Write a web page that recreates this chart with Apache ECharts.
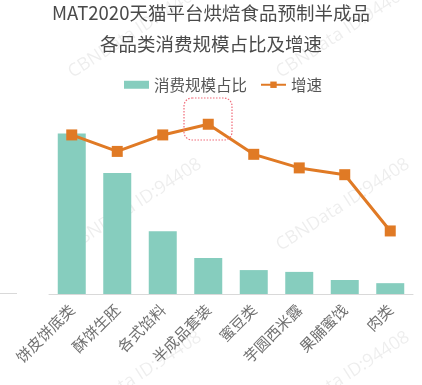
<!DOCTYPE html>
<html><head><meta charset="utf-8">
<script src="https://cdn.jsdelivr.net/npm/echarts@6/dist/echarts.min.js"></script>
<style>html,body{margin:0;padding:0;background:#fff}#c{width:422px;height:385px}</style>
</head><body><div id="c"></div>
<script>
const categories = ['饼皮饼底类','酥饼生胚','各式馅料','半成品套装','蜜豆类','芋圆西米露','果脯蜜饯','肉类'];
const shareValues = [35.6, 26.8, 13.9, 8.0, 5.3, 4.9, 3.1, 2.4];
const growthValues = [164, 147, 164, 175, 144, 130, 123, 65];
const seriesNames = ['消费规模占比','增速'];
const titleLines = ['MAT2020天猫平台烘焙食品预制半成品','各品类消费规模占比及增速'];
const watermarkText = 'CBNData ID:94408';

const chart = echarts.init(document.getElementById('c'), null, {renderer:'canvas'});
const wm = [];
[-138, 70, 278].forEach(x => [74, 247, 420].forEach(y => wm.push({
  type:'text', x:x, y:y, rotation: 33*Math.PI/180, z:-10, silent:true,
  style:{text:watermarkText, fill:'rgba(0,0,0,0.07)', font:'18px "Open Sans", sans-serif', textAlign:'left', textVerticalAlign:'middle'}
})));
chart.setOption({
  animation:false,
  title:{text:titleLines.join('\n'), left:'center', top:-3, padding:0,
    textStyle:{fontSize:18.5, fontWeight:'normal', color:'#4a4a4a', lineHeight:31, fontFamily:'"Noto Sans CJK SC", sans-serif'}},
  legend:{top:72, left:119, itemWidth:25, itemHeight:8, itemGap:13,
    textStyle:{fontSize:15.5, color:'#555', fontFamily:'"Noto Sans CJK SC", sans-serif'},
    data:[{name:seriesNames[0], icon:'rect'}, {name:seriesNames[1]}]},
  grid:{left:49, right:9, top:100, bottom:91},
  xAxis:{type:'category', data:categories,
    axisLine:{lineStyle:{color:'#d9d9d9', width:1}}, axisTick:{show:false},
    axisLabel:{rotate:45, fontSize:15, color:'#707070', margin:13, interval:0, fontFamily:'"Noto Sans CJK SC", sans-serif'}},
  yAxis:[{type:'value', min:0, max:43, show:false, splitLine:{show:false}},
         {type:'value', min:0, max:200, show:false, splitLine:{show:false}}],
  series:[
    {name:seriesNames[0], type:'bar', data:shareValues, barWidth:28, yAxisIndex:0,
      itemStyle:{color:'#86cdbe'}},
    {name:seriesNames[1], type:'line', data:growthValues, yAxisIndex:1, z:5,
      symbol:'rect', symbolSize:11, lineStyle:{color:'#e07a25', width:3},
      itemStyle:{color:'#e07a25'}}
  ],
  graphic: wm.concat([
    {type:'rect', shape:{x:184, y:98, width:48, height:42, r:8}, z:10,
      style:{fill:'none', stroke:'#f06a78', lineWidth:1.2, lineDash:[1.5,1.5]}},
    {type:'line', shape:{x1:0, y1:293.5, x2:17, y2:293.5}, style:{stroke:'#d9d9d9', lineWidth:1}}
  ])
});
</script></body></html>
